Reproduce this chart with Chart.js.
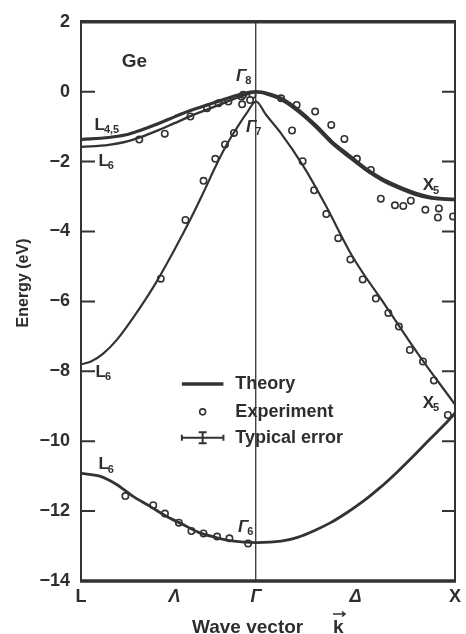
<!DOCTYPE html>
<html>
<head>
<meta charset="utf-8">
<script src="https://cdn.jsdelivr.net/npm/chart.js@4.4.0/dist/chart.umd.min.js"></script>
<style>
  html, body { margin: 0; padding: 0; background: #fff; }
  canvas { display: block; }
</style>
</head>
<body>
<canvas id="bands" width="466" height="634"></canvas>
<script>
// k axis: L (zone edge along Lambda) -> Gamma -> X (zone edge along Delta)
const kTicks = [-0.88, -0.41, 0, 0.5, 1];
const kTickLabels = ['L', 'Λ', 'Γ', 'Δ', 'X'];

// theory bands (eV)
const kHeavy = [-0.88, -0.74, -0.66, -0.58, -0.49, -0.41, -0.33, -0.24, -0.16, -0.08, 0, 0.065, 0.13, 0.215, 0.30, 0.38, 0.465, 0.55, 0.63, 0.715, 0.80, 0.88, 1.0];
const eHeavy = [-1.37, -1.31, -1.24, -1.10, -0.91, -0.72, -0.54, -0.37, -0.22, -0.08, 0, -0.06, -0.2, -0.53, -0.96, -1.42, -1.81, -2.19, -2.48, -2.71, -2.90, -3.02, -3.08];
const kLight = [-0.88, -0.74, -0.66, -0.58, -0.49, -0.41, -0.33, -0.24, -0.16, -0.08, 0, 0.065, 0.13, 0.215, 0.30, 0.38, 0.465, 0.55, 0.63, 0.715, 0.80, 0.88, 1.0];
const eLight = [-1.58, -1.52, -1.44, -1.30, -1.10, -0.90, -0.70, -0.50, -0.32, -0.14, -0.02, -0.10, -0.25, -0.59, -1.02, -1.48, -1.87, -2.24, -2.53, -2.76, -2.95, -3.06, -3.10];
const kSplit = [-0.88, -0.83, -0.77, -0.70, -0.612, -0.512, -0.413, -0.33, -0.27, -0.2, -0.148, -0.098, -0.048, 0, 0.05, 0.12, 0.24, 0.345, 0.483, 0.648, 0.814, 1.0];
const eSplit = [-7.8, -7.72, -7.5, -7.1, -6.42, -5.55, -4.55, -3.65, -2.95, -2.1, -1.52, -1.05, -0.62, -0.28, -0.66, -1.15, -2.15, -3.2, -4.7, -6.1, -7.5, -8.95];
const kBottom = [-0.88, -0.786, -0.703, -0.62, -0.537, -0.454, -0.372, -0.289, -0.205, -0.123, 0, 0.126, 0.209, 0.292, 0.375, 0.458, 0.541, 0.623, 0.706, 0.79, 0.872, 0.955, 1.0];
const eBottom = [-10.92, -11.0, -11.23, -11.57, -11.85, -12.14, -12.37, -12.61, -12.75, -12.85, -12.9, -12.86, -12.75, -12.56, -12.33, -12.04, -11.71, -11.33, -10.9, -10.43, -9.95, -9.48, -9.2];

// experiment (photoemission points)
const kExp = [-0.587, -0.459, -0.33, -0.247, -0.189, -0.139, -0.073, -0.065, -0.018, -0.07, -0.03,
  -0.479, -0.355, -0.264, -0.205, -0.156, -0.111,
  0.126, 0.204, 0.297, 0.378, 0.444, 0.507, 0.577, 0.181,
  0.627, 0.698, 0.74, 0.778, 0.851, 0.919, 0.914, 0.99,
  0.234, 0.292, 0.353, 0.413, 0.474, 0.536, 0.602, 0.665, 0.718, 0.773, 0.839, 0.894, 0.964,
  -0.657, -0.517, -0.458, -0.388, -0.325, -0.264, -0.196, -0.134, -0.04];
const eExp = [-1.37, -1.2, -0.71, -0.47, -0.33, -0.28, -0.14, -0.09, -0.09, -0.36, -0.24,
  -5.35, -3.67, -2.55, -1.92, -1.51, -1.18,
  -0.19, -0.38, -0.57, -0.95, -1.35, -1.92, -2.24, -1.11,
  -3.06, -3.25, -3.27, -3.12, -3.38, -3.34, -3.6, -3.57,
  -1.99, -2.82, -3.5, -4.19, -4.8, -5.37, -5.92, -6.33, -6.72, -7.39, -7.72, -8.26, -9.25,
  -11.57, -11.83, -12.07, -12.33, -12.57, -12.64, -12.73, -12.78, -12.93];

// point labels: text, subscript, k, E, italic
const pointLabels = [
  ['Γ', '8', -0.075, 0.44, true],
  ['Γ', '7', -0.025, -1.01, true],
  ['L', '4,5', -0.786, -0.95, false],
  ['L', '6', -0.766, -1.98, false],
  ['X', '5', 0.866, -2.69, false],
  ['L', '6', -0.781, -8.03, false],
  ['X', '5', 0.866, -8.91, false],
  ['L', '6', -0.766, -10.67, false],
  ['Γ', '6', -0.065, -12.46, true]
];

const FONT = "'Liberation Sans', Arial, sans-serif";
const INK = '#2e2e2e';

function pts(ks, es) {
  return ks.map((k, i) => ({ x: k, y: es[i] }));
}

function bandSet(ks, es, width) {
  return {
    data: pts(ks, es),
    showLine: true,
    borderColor: '#333',
    borderWidth: width,
    pointRadius: 0,
    cubicInterpolationMode: 'monotone'
  };
}

function subLabel(ctx, x, y, main, sub, italic, size) {
  ctx.font = (italic ? 'italic ' : '') + 'bold ' + size + 'px ' + FONT;
  ctx.textAlign = 'center';
  ctx.textBaseline = 'middle';
  ctx.fillText(main, x, y);
  const w = ctx.measureText(main).width;
  ctx.font = 'bold 11px ' + FONT;
  ctx.textAlign = 'left';
  ctx.fillText(sub, x + w / 2 - 1, y + 5);
}

const decorations = {
  id: 'decorations',
  afterDraw(chart) {
    const { ctx, chartArea: area, scales: { x, y } } = chart;
    ctx.save();
    ctx.strokeStyle = '#333';
    ctx.fillStyle = INK;

    // inward tick marks on both side axes
    ctx.lineWidth = 2;
    y.ticks.forEach(t => {
      if (t.value === y.max || t.value === y.min) return;
      const py = y.getPixelForValue(t.value);
      ctx.beginPath();
      ctx.moveTo(area.left, py); ctx.lineTo(area.left + 14, py);
      ctx.moveTo(area.right - 13, py); ctx.lineTo(area.right, py);
      ctx.stroke();
    });

    // frame
    ctx.lineWidth = 2;
    ctx.beginPath();
    ctx.moveTo(area.left, area.top); ctx.lineTo(area.left, area.bottom);
    ctx.moveTo(area.right, area.top); ctx.lineTo(area.right, area.bottom);
    ctx.stroke();
    ctx.lineWidth = 3.5;
    ctx.beginPath();
    ctx.moveTo(area.left - 1, area.top); ctx.lineTo(area.right + 1, area.top);
    ctx.moveTo(area.left - 1, area.bottom); ctx.lineTo(area.right + 1, area.bottom);
    ctx.stroke();

    // material name
    ctx.font = 'bold 19px ' + FONT;
    ctx.textAlign = 'center';
    ctx.textBaseline = 'middle';
    ctx.fillText('Ge', x.getPixelForValue(-0.612), y.getPixelForValue(0.86));

    // symmetry point labels
    pointLabels.forEach(([main, sub, k, e, italic]) => {
      subLabel(ctx, x.getPixelForValue(k), y.getPixelForValue(e), main, sub, italic, 17);
    });

    // legend
    const lx0 = x.getPixelForValue(-0.373), lx1 = x.getPixelForValue(-0.164);
    const lxc = (lx0 + lx1) / 2, tx = x.getPixelForValue(-0.104);
    const yTheory = y.getPixelForValue(-8.36);
    const yExp = y.getPixelForValue(-9.16);
    const yErr = y.getPixelForValue(-9.9);
    ctx.lineWidth = 3.5;
    ctx.beginPath(); ctx.moveTo(lx0, yTheory); ctx.lineTo(lx1, yTheory); ctx.stroke();
    ctx.lineWidth = 1.6;
    ctx.fillStyle = '#fff';
    ctx.beginPath(); ctx.arc(lxc, yExp, 3, 0, Math.PI * 2); ctx.fill(); ctx.stroke();
    ctx.lineWidth = 2;
    ctx.beginPath();
    ctx.moveTo(lx0, yErr); ctx.lineTo(lx1, yErr);
    ctx.moveTo(lx0, yErr - 3); ctx.lineTo(lx0, yErr + 3);
    ctx.moveTo(lx1, yErr - 3); ctx.lineTo(lx1, yErr + 3);
    ctx.moveTo(lxc, yErr - 5.5); ctx.lineTo(lxc, yErr + 5.5);
    ctx.moveTo(lxc - 4, yErr - 5.5); ctx.lineTo(lxc + 4, yErr - 5.5);
    ctx.moveTo(lxc - 4, yErr + 5.5); ctx.lineTo(lxc + 4, yErr + 5.5);
    ctx.stroke();
    ctx.fillStyle = INK;
    ctx.font = 'bold 18px ' + FONT;
    ctx.textAlign = 'left';
    ctx.fillText('Theory', tx, yTheory);
    ctx.fillText('Experiment', tx, yExp);
    ctx.fillText('Typical error', tx, yErr);

    // axis titles
    ctx.save();
    ctx.translate(24, 283);
    ctx.rotate(-Math.PI / 2);
    ctx.font = 'bold 16px ' + FONT;
    ctx.textAlign = 'center';
    ctx.fillText('Energy (eV)', 0, 0);
    ctx.restore();

    ctx.font = 'bold 19px ' + FONT;
    ctx.textAlign = 'left';
    ctx.textBaseline = 'alphabetic';
    ctx.fillText('Wave vector', 192, 633);
    ctx.fillText('k', 333, 633);
    ctx.lineWidth = 1.6;
    ctx.beginPath();
    ctx.moveTo(333, 614); ctx.lineTo(345, 614);
    ctx.moveTo(342, 611.5); ctx.lineTo(345, 614); ctx.lineTo(342, 616.5);
    ctx.stroke();

    ctx.restore();
  }
};

new Chart(document.getElementById('bands'), {
  type: 'scatter',
  data: {
    datasets: [
      bandSet(kHeavy, eHeavy, 3.2),
      bandSet(kLight, eLight, 2.4),
      bandSet(kSplit, eSplit, 2.2),
      bandSet(kBottom, eBottom, 2.8),
      {
        data: pts(kExp, eExp),
        pointRadius: 3.2,
        pointBorderWidth: 1.6,
        pointBorderColor: '#333',
        pointBackgroundColor: '#fff'
      }
    ]
  },
  options: {
    responsive: false,
    animation: false,
    devicePixelRatio: 1,
    layout: { padding: { top: 18, right: 7, left: 0, bottom: 0 } },
    plugins: { legend: { display: false }, tooltip: { enabled: false } },
    scales: {
      x: {
        type: 'linear',
        min: -0.88,
        max: 1,
        afterBuildTicks: s => { s.ticks = kTicks.map(v => ({ value: v })); },
        afterFit: s => { s.height = 53; },
        ticks: {
          autoSkip: false,
          maxRotation: 0,
          padding: 5,
          color: INK,
          callback: (v, i) => kTickLabels[i],
          font: c => ({ family: FONT, size: 18, weight: 'bold', style: (c.index >= 1 && c.index <= 3) ? 'italic' : 'normal' })
        },
        grid: {
          drawTicks: false,
          lineWidth: 1.4,
          color: c => (c.tick && c.tick.value === 0) ? '#444' : 'rgba(0,0,0,0)'
        },
        border: { display: false }
      },
      y: {
        min: -14,
        max: 2,
        afterFit: s => { s.width = 81; },
        ticks: {
          stepSize: 2,
          padding: 11,
          color: INK,
          font: { family: FONT, size: 18, weight: 'bold' },
          callback: v => v < 0 ? '\u2212' + Math.abs(v) : String(v)
        },
        grid: { display: false, drawTicks: false },
        border: { display: false }
      }
    }
  },
  plugins: [decorations]
});
</script>
</body>
</html>
